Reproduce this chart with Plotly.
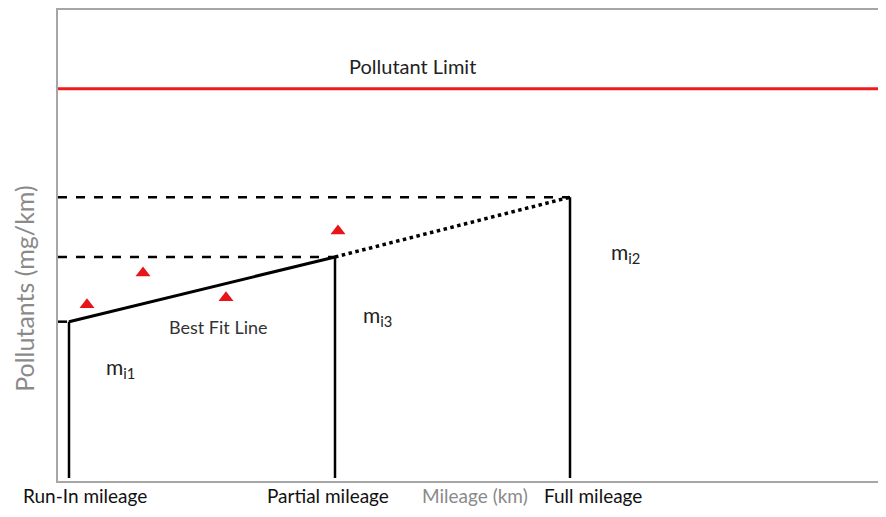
import plotly.graph_objects as go

# schematic values (x: mileage units, y: pollutant units)
run_in_km = 11
partial_km = 277
full_km = 512
x_max = 820

limit_level = 394
fit_start = 160
fit_partial = 225
fit_full = 285
y_max = 473

point_x = [29, 85, 168, 280]
point_y = [177, 209, 184, 251]

FONT = "Lato"

fig = go.Figure()

# pollutant limit
fig.add_trace( go.Scatter( x=[0, x_max], y=[limit_level, limit_level], mode="lines",
                           line={ "color": "#ee1c1c", "width": 3 } ) )

# dashed projections onto y axis
for xe, ye in [( full_km, fit_full ), ( partial_km, fit_partial ), ( run_in_km, fit_start )]:
    fig.add_trace( go.Scatter( x=[0, xe], y=[ye, ye], mode="lines",
                               line={ "color": "black", "width": 2.5, "dash": "dash" } ) )

# best fit line and extrapolation
fig.add_trace( go.Scatter( x=[run_in_km, partial_km], y=[fit_start, fit_partial], mode="lines",
                           line={ "color": "black", "width": 3 } ) )
fig.add_trace( go.Scatter( x=[partial_km, full_km], y=[fit_partial, fit_full], mode="lines",
                           line={ "color": "black", "width": 3.5, "dash": "dot" } ) )

# verticals
for xe, ye in [( run_in_km, fit_start ), ( partial_km, fit_partial ), ( full_km, fit_full )]:
    fig.add_trace( go.Scatter( x=[xe, xe], y=[3, ye], mode="lines",
                               line={ "color": "black", "width": 2.5 } ) )

# measured points
fig.add_trace( go.Scatter( x=point_x, y=point_y, mode="markers",
                           marker={ "symbol": "triangle-up", "size": 13, "color": "#e8141b" } ) )

labels = [
    ( 354, 417, "Pollutant Limit", 20, "#222" ),
    ( 160, 155, "Best Fit Line", 18, "#333" ),
    ( 62, 113, "m<sub>i1</sub>", 21, "#222" ),
    ( 319, 166, "m<sub>i3</sub>", 21, "#222" ),
    ( 567, 229, "m<sub>i2</sub>", 21, "#222" ),
]
for x, y, t, s, c in labels:
    fig.add_annotation( x=x, y=y, text=t, showarrow=False, font={ "family": FONT, "size": s, "color": c } )

bottom = [
    ( 27, "Run-In mileage", "#111" ),
    ( 270, "Partial mileage", "#111" ),
    ( 417, "Mileage (km)", "#8a8a8a" ),
    ( 535, "Full mileage", "#111" ),
]
for x, t, c in bottom:
    fig.add_annotation( x=x, y=-15 / y_max, text=t, showarrow=False, yref="paper", yanchor="middle",
                        font={ "family": FONT, "size": 19, "color": c } )

# y title as rotated annotation (sits lower than the axis centre)
fig.add_annotation( x=-34 / x_max, y=193 / y_max, xref="paper", yref="paper", text="Pollutants (mg/km)",
                    textangle=-90, showarrow=False, xanchor="center", yanchor="middle",
                    font={ "family": FONT, "size": 25, "color": "#8a8a8a" } )

fig.update_xaxes( range=[0, x_max], showgrid=False, zeroline=False, showticklabels=False,
                  showline=True, linecolor="#a6a6a6", linewidth=2, mirror=True, ticks="" )
fig.update_yaxes( range=[0, y_max], showgrid=False, zeroline=False, showticklabels=False,
                  showline=True, linecolor="#a6a6a6", linewidth=2, ticks="" )
fig.update_layout( width=870, height=501, showlegend=False,
                   template="simple_white",
                   plot_bgcolor="#ffffff",
                   paper_bgcolor="#ffffff",
                   margin={ "l": 50, "r": 0, "t": 0, "b": 28 } )

fig.write_html( "out.html" )
